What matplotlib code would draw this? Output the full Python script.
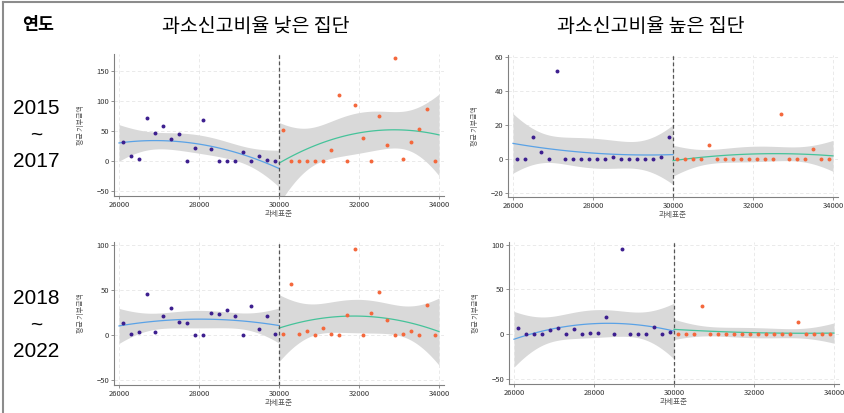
import numpy as np
import matplotlib.pyplot as plt
from matplotlib.lines import Line2D

plt.rcParams['font.family'] = ['Noto Sans CJK KR', 'DejaVu Sans']

# bin centres (과세표준)
x_left = np.arange(26100, 30000, 200)
x_right = np.arange(30100, 34000, 200)
cutoff = 30000

# 평균 기부금액 per bin
y15_low_left = [32, 8, 4, 71, 47, 58, 37, 45, 0, 21, 69, 20, 0, 0, 0, 15, 0, 8, 2, 0]
y15_low_right = [51, 0, 0, 0, 0, 0, 18, 110, 0, 94, 38, 0, 75, 27, 171, 3, 31, 54, 87, 0]
y15_high_left = [0, 0, 13, 4, 0, 51.5, 0, 0, 0, 0, 0, 0, 1.2, 0, 0, 0, 0, 0, 1.2, 13]
y15_high_right = [0, 0, 0, 0, 8, 0, 0, 0, 0, 0, 0, 0, 0, 26.5, 0, 0, 0, 6, 0, 0]
y18_low_left = [13.7, 1, 3, 45, 3, 21, 30, 14, 13, 0, 0, 24, 23, 28, 21, 0, 32, 7, 21.5, 1]
y18_low_right = [1.5, 56.7, 0.7, 4, 0, 8, 1.5, 0, 22.6, 95, 0, 24.4, 47.4, 16, 0, 1, 4, 0, 33, 0]
y18_high_left = [6.7, 0, 0, 0, 5, 7.4, 0, 5.5, 0, 1.5, 1, 19, 0, 95.5, 0, 0, 0, 7.8, 0, 2.2]
y18_high_right = [0.7, 0, 0, 32, 0, 0, 0, 0, 0, 0, 0, 0, 0, 0, 0, 14, 0, 0, 0, 0]

group_titles = ['과소신고비율 낮은 집단', '과소신고비율 높은 집단']
year_labels = ['2015\n~\n2017', '2018\n~\n2022']

purple = '#3d1f8f'
orange = '#f4683c'
blue_line = '#5aa2e6'
green_line = '#45c39a'


def quad_fit(x, y, xs):
    # quadratic OLS fit with 95% CI of the mean
    x = np.asarray(x, float)
    y = np.asarray(y, float)
    xc = (x - cutoff) / 1000
    X = np.column_stack([np.ones_like(xc), xc, xc ** 2])
    beta, *_ = np.linalg.lstsq(X, y, rcond=None)
    resid = y - X @ beta
    s2 = resid @ resid / (len(y) - 3)
    cov = s2 * np.linalg.inv(X.T @ X)
    xsc = (xs - cutoff) / 1000
    Xs = np.column_stack([np.ones_like(xsc), xsc, xsc ** 2])
    fit = Xs @ beta
    se = np.sqrt(np.einsum('ij,jk,ik->i', Xs, cov, Xs))
    return fit, fit - 2.11 * se, fit + 2.11 * se


fig = plt.figure(figsize=(8.44, 4.13), dpi=100)
W, H = 844, 413


def add_ax(l, t, r, b):
    return fig.add_axes([l / W, 1 - b / H, (r - l) / W, (b - t) / H])


panels = [
    (add_ax(114, 54, 444, 196), y15_low_left, y15_low_right, (-58, 178), [-50, 0, 50, 100, 150]),
    (add_ax(508, 55, 838, 197), y15_high_left, y15_high_right, (-22.4, 61), [-20, 0, 20, 40, 60]),
    (add_ax(114, 242, 444, 385), y18_low_left, y18_low_right, (-55.5, 103), [-50, 0, 50, 100]),
    (add_ax(509, 242, 839, 384), y18_high_left, y18_high_right, (-55.5, 103), [-50, 0, 50, 100]),
]

xs_l = np.linspace(26000, 30000, 100)
xs_r = np.linspace(30000, 34000, 100)

for ax, yl, yr, ylim, yticks in panels:
    fl, lo_l, hi_l = quad_fit(x_left, yl, xs_l)
    fr, lo_r, hi_r = quad_fit(x_right, yr, xs_r)
    ax.fill_between(xs_l, lo_l, hi_l, color='#d9d9d9', lw=0, zorder=1)
    ax.fill_between(xs_r, lo_r, hi_r, color='#d9d9d9', lw=0, zorder=1)
    ax.plot(xs_l, fl, color=blue_line, lw=0.9, zorder=2)
    ax.plot(xs_r, fr, color=green_line, lw=0.9, zorder=2)
    ax.scatter(x_left, yl, s=8, color=purple, lw=0, zorder=3)
    ax.scatter(x_right, yr, s=8, color=orange, lw=0, zorder=3)
    ax.axvline(cutoff, color='#555555', lw=0.9, ls=(0, (3, 2)), zorder=4)

    ax.set_xlim(25875, 34125)
    ax.set_ylim(*ylim)
    ax.set_xticks([26000, 28000, 30000, 32000, 34000])
    ax.set_yticks(yticks)
    ax.grid(True, color='#e6e6e6', ls=(0, (4, 3)), lw=0.6)
    ax.set_axisbelow(True)
    for s in ['top', 'right']:
        ax.spines[s].set_visible(False)
    for s in ['left', 'bottom']:
        ax.spines[s].set_color('#808080')
        ax.spines[s].set_linewidth(0.8)
    ax.tick_params(labelsize=5.5, length=2, width=0.6, colors='#808080', labelcolor='#333333', pad=1.5)
    ax.set_xlabel('과세표준', fontsize=5.5, color='#555555')
    ax.set_ylabel('평균 기부금액', fontsize=5, color='#555555')
    ax.xaxis.set_label_coords(0.5, -14 / 142)
    ax.yaxis.set_label_coords(-29 / 330, 0.5)

# header and row labels
fig.text(38 / W, 1 - 25 / H, '연도', fontsize=12.5, fontweight='bold', ha='center', va='center')
fig.text(256 / W, 1 - 26 / H, group_titles[0], fontsize=14, ha='center', va='center')
fig.text(651 / W, 1 - 26 / H, group_titles[1], fontsize=14, ha='center', va='center')
fig.text(36 / W, 1 - 135 / H, year_labels[0], fontsize=15, ha='center', va='center',
         family=['Liberation Sans Narrow', 'Liberation Sans'], linespacing=1.5)
fig.text(36 / W, 1 - 325 / H, year_labels[1], fontsize=15, ha='center', va='center',
         family=['Liberation Sans Narrow', 'Liberation Sans'], linespacing=1.5)

# outer frame (top and left)
fig.add_artist(Line2D([3 / W, 1], [1 - 1.5 / H, 1 - 1.5 / H], color='#8c8c8c', lw=1.5))
fig.add_artist(Line2D([3 / W, 3 / W], [0, 1 - 1.5 / H], color='#8c8c8c', lw=1.5))

fig.savefig('out.png', dpi=100)
